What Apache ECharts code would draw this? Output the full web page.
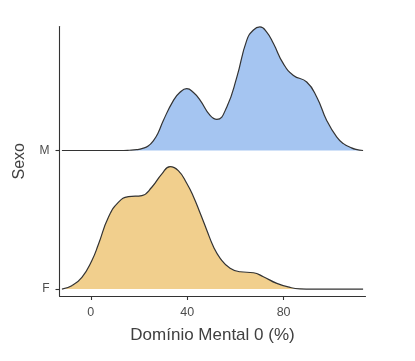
<!DOCTYPE html>
<html>
<head>
<meta charset="utf-8">
<script src="https://cdn.jsdelivr.net/npm/echarts@6/dist/echarts.min.js"></script>
<style>html,body{margin:0;padding:0;background:#fff}#c{width:415px;height:361px}</style>
</head>
<body>
<div id="c"></div>
<script>
// Categories (ridge baselines: F = 0, M = 1)
const categories = ['F', 'M'];
const xTicks = [0, 40, 80];
const xTitle = 'Domínio Mental 0 (%)';
const yTitle = 'Sexo';

// Density ridge for M (x value, scaled height above baseline)
const mX = [-12, 12, 16, 19, 21.5, 23.8, 26.0, 28.0, 30.1, 34.3, 37.0, 39.8, 42.5, 45.4, 49.5, 52.3, 56.4, 60.6, 64.7, 67.5, 70.2, 73.0, 75.8, 79.9, 84.1, 89.6, 93.8, 97.9, 102.1, 105, 107.6, 110, 113];
const mDensity = [0, 0, 0.002, 0.006, 0.015, 0.032, 0.072, 0.13, 0.217, 0.362, 0.42, 0.446, 0.42, 0.362, 0.253, 0.224, 0.313, 0.53, 0.795, 0.87, 0.892, 0.855, 0.772, 0.627, 0.542, 0.494, 0.385, 0.217, 0.096, 0.048, 0.024, 0.008, 0];

// Density ridge for F
const fX = [-12, -7.9, -3.7, 0.4, 3.2, 7.3, 11.5, 15.6, 21.2, 25.3, 29.5, 32.9, 36.3, 39.8, 42.6, 45.4, 48.1, 50.9, 53.7, 57.8, 62.0, 67.5, 71.6, 77.2, 82.7, 86.8, 92, 113];
const fDensity = [0, 0.024, 0.085, 0.205, 0.325, 0.518, 0.627, 0.667, 0.675, 0.735, 0.832, 0.884, 0.855, 0.764, 0.667, 0.547, 0.427, 0.306, 0.222, 0.15, 0.125, 0.118, 0.089, 0.041, 0.012, 0.002, 0, 0];

const mBase = categories.indexOf('M');
const fBase = categories.indexOf('F');

const chart = echarts.init(document.getElementById('c'), null, {renderer: 'canvas'});
const font = '"Liberation Sans", Arial, sans-serif';
const lineCol = '#333333';

chart.setOption({
  animation: false,
  grid: {left: 59.5, right: 49.5, top: 26.5, bottom: 65, containLabel: false},
  xAxis: {
    type: 'value', min: -13, max: 114,
    splitLine: {show: false},
    axisLine: {show: true, onZero: false, lineStyle: {color: lineCol, width: 1.1}},
    axisTick: {show: true, length: 4, customValues: xTicks, lineStyle: {color: lineCol, width: 1.1}},
    axisLabel: {customValues: xTicks, color: '#4d4d4d', fontSize: 12.5, fontFamily: font, margin: 10},
    name: xTitle, nameLocation: 'middle', nameGap: 31,
    nameTextStyle: {color: '#404040', fontSize: 17, fontFamily: font}
  },
  yAxis: {
    type: 'value', min: -0.05, max: 1.895,
    splitLine: {show: false},
    axisLine: {show: true, onZero: false, lineStyle: {color: lineCol, width: 1.1}},
    axisTick: {show: true, length: 4, customValues: [fBase, mBase], lineStyle: {color: lineCol, width: 1.1}},
    axisLabel: {customValues: [fBase, mBase], formatter: v => categories[Math.round(v)], color: '#4d4d4d', fontSize: 12, fontFamily: font, margin: 10},
    name: yTitle, nameLocation: 'middle', nameGap: 32, nameRotate: 90,
    nameTextStyle: {color: '#404040', fontSize: 16, fontFamily: font}
  },
  series: [
    {
      type: 'line', symbol: 'none', smooth: 0.5, silent: true,
      data: mX.map((x, i) => [x, mBase + mDensity[i]]),
      lineStyle: {color: lineCol, width: 1.2},
      areaStyle: {color: '#A5C5F1', opacity: 1, origin: mBase}
    },
    {
      type: 'line', symbol: 'none', smooth: 0.5, silent: true,
      data: fX.map((x, i) => [x, fBase + fDensity[i]]),
      lineStyle: {color: lineCol, width: 1.2},
      areaStyle: {color: '#F1CF8D', opacity: 1, origin: fBase}
    }
  ]
});
</script>
</body>
</html>
